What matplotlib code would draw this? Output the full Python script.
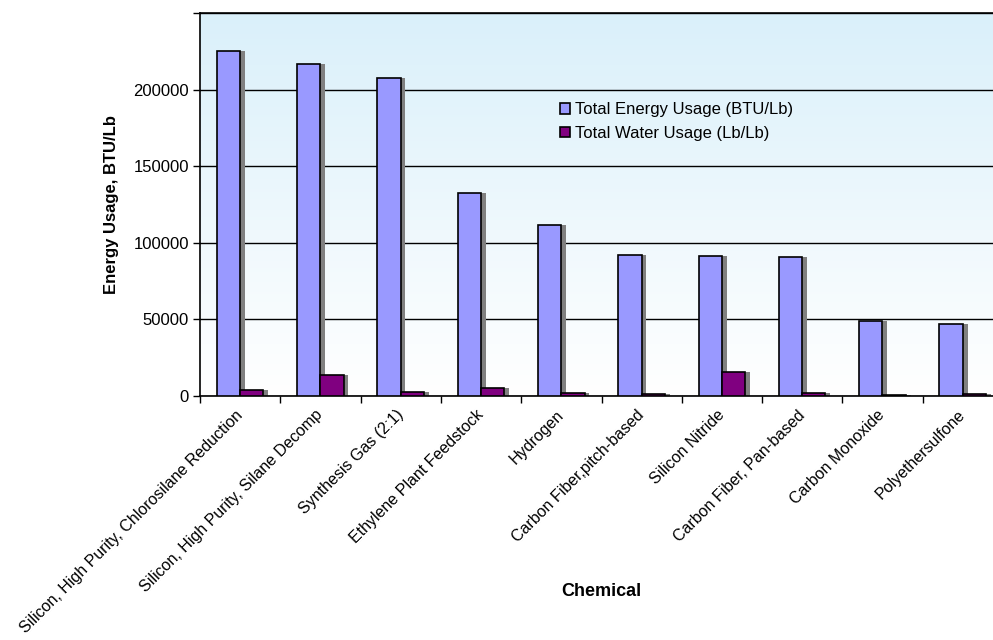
import numpy as np
import matplotlib.pyplot as plt
from matplotlib.colors import LinearSegmentedColormap

plt.rcParams["font.family"] = ["Liberation Sans", "DejaVu Sans"]

chemicals = [
    "Silicon, High Purity, Chlorosilane Reduction",
    "Silicon, High Purity, Silane Decomp",
    "Synthesis Gas (2:1)",
    "Ethylene Plant Feedstock",
    "Hydrogen",
    "Carbon Fiber,pitch-based",
    "Silicon Nitride",
    "Carbon Fiber, Pan-based",
    "Carbon Monoxide",
    "Polyethersulfone",
]
energy = [225000, 217000, 207600, 132800, 111600, 92300, 91700, 90500, 49200, 47300]
water = [3700, 14000, 2600, 5500, 2200, 1600, 15900, 2200, 900, 1500]

x = np.arange(len(chemicals))
w = 0.29
shadow = 0.06

fig = plt.figure(figsize=(9.93, 6.4), dpi=100)
ax = fig.add_axes([200 / 993, 244 / 640, 803 / 993, 383 / 640])

# background fades from pale blue at the top to white at the bottom
grad = LinearSegmentedColormap.from_list("bg", ["#ffffff", "#daf0fa"])
ax.imshow(np.linspace(0, 1, 256).reshape(-1, 1), cmap=grad, origin="lower",
          aspect="auto", extent=(-0.5, len(chemicals) - 0.5, 0, 250000), zorder=0)

ax.set_ylim(0, 250000)
ax.set_xlim(-0.5, len(chemicals) - 0.5)
ax.set_yticks(np.arange(0, 250001, 50000))
ax.set_yticklabels(["0", "50000", "100000", "150000", "200000", ""])
ax.grid(axis="y", color="black", linewidth=1, zorder=1)

# drop shadows behind the bars
ax.bar(x - 0.146 + shadow, energy, w, color="#808080", zorder=2)
ax.bar(x + 0.144 + shadow, water, w, color="#808080", zorder=2)

ax.bar(x - 0.146, energy, w, color="#9999ff", edgecolor="black", linewidth=1.2,
       label="Total Energy Usage (BTU/Lb)", zorder=3)
ax.bar(x + 0.144, water, w, color="#800080", edgecolor="black", linewidth=1.2,
       label="Total Water Usage (Lb/Lb)", zorder=3)

ax.set_xticks(x)
ax.set_xticklabels(chemicals, rotation=45, ha="right", va="center",
                   rotation_mode="anchor", fontsize=11.5)
ax.tick_params(axis="x", length=0, pad=12)
ax.set_xticks(np.arange(-0.5, len(chemicals)), minor=True)
ax.tick_params(axis="x", which="minor", length=5, direction="out", width=1)
ax.tick_params(axis="y", length=5, direction="out", width=1, labelsize=12, pad=3)

for side in ["top", "left", "bottom"]:
    ax.spines[side].set_linewidth(1.2)
ax.spines["right"].set_visible(False)

ax.set_ylabel("Energy Usage, BTU/Lb", fontsize=12, fontweight="bold", labelpad=10)
fig.text(601 / 993, 1 - 592 / 640, "Chemical", fontsize=13, fontweight="bold",
         ha="center", va="center")

leg = fig.legend(loc="upper left", bbox_to_anchor=(552 / 993, 1 - 94 / 640),
                 frameon=False, fontsize=12, handlelength=0.6, handleheight=0.6,
                 handletextpad=0.3, labelspacing=0.5, borderpad=0)

fig.savefig("out.png", dpi=100)
